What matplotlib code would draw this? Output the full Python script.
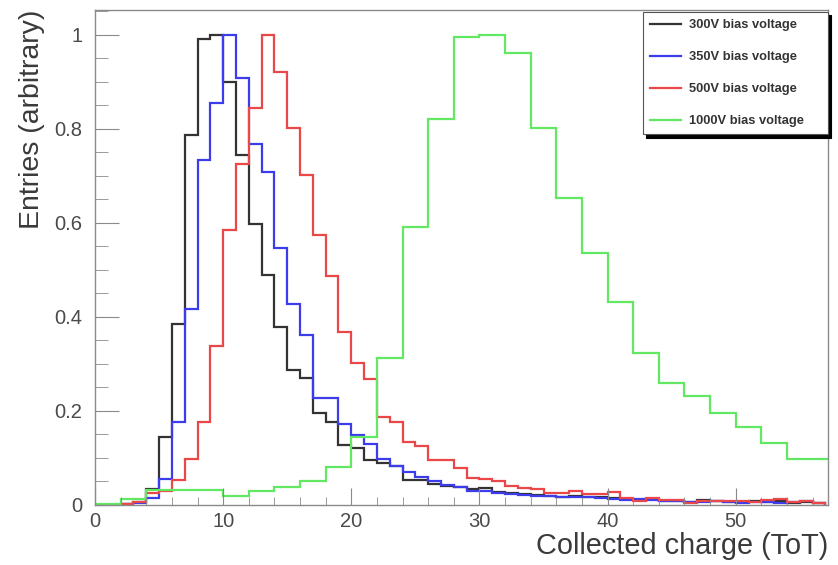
import numpy as np
import matplotlib
matplotlib.use("Agg")
import matplotlib.pyplot as plt
from matplotlib.ticker import MultipleLocator

plt.rcParams['font.family'] = ['Liberation Sans', 'DejaVu Sans']

# ---- data (normalised entries per ToT bin) ----
labels = ["300V bias voltage", "350V bias voltage", "500V bias voltage", "1000V bias voltage"]

# 1-ToT-wide bins from 0 to 57
v300 = [0, 0, 0.002, 0.007, 0.034, 0.145, 0.385, 0.787, 0.991, 1.0,
        0.9, 0.745, 0.598, 0.489, 0.379, 0.287, 0.27, 0.195, 0.177, 0.128,
        0.122, 0.096, 0.089, 0.082, 0.053, 0.053, 0.045, 0.04, 0.038, 0.034,
        0.036, 0.028, 0.026, 0.024, 0.022, 0.02, 0.018, 0.02, 0.016, 0.018,
        0.014, 0.012, 0.01, 0.012, 0.009, 0.008, 0.006, 0.01, 0.008, 0.007,
        0.006, 0.008, 0.006, 0.008, 0.005, 0.006, 0.004]
v350 = [0, 0, 0.002, 0.005, 0.015, 0.055, 0.177, 0.417, 0.734, 0.855,
        1.0, 0.908, 0.768, 0.709, 0.547, 0.428, 0.362, 0.228, 0.228, 0.172,
        0.149, 0.13, 0.097, 0.082, 0.071, 0.06, 0.05, 0.043, 0.038, 0.03,
        0.03, 0.026, 0.024, 0.022, 0.02, 0.02, 0.018, 0.016, 0.018, 0.015,
        0.013, 0.01, 0.012, 0.01, 0.008, 0.009, 0.007, 0.006, 0.008, 0.006,
        0.005, 0.007, 0.006, 0.005, 0.007, 0.009, 0.005]
v500 = [0, 0, 0.003, 0.006, 0.025, 0.03, 0.053, 0.098, 0.177, 0.338,
        0.584, 0.726, 0.844, 1.0, 0.922, 0.801, 0.702, 0.574, 0.487, 0.369,
        0.302, 0.268, 0.187, 0.177, 0.135, 0.125, 0.096, 0.095, 0.078, 0.057,
        0.055, 0.05, 0.04, 0.036, 0.034, 0.026, 0.025, 0.03, 0.023, 0.023,
        0.027, 0.015, 0.008, 0.014, 0.01, 0.01, 0.005, 0.008, 0.008, 0.009,
        0.008, 0.006, 0.01, 0.012, 0.006, 0.008, 0.005]
# 2-ToT-wide bins from 0 to 58
v1000 = [0.002, 0.013, 0.032, 0.031, 0.031, 0.02, 0.03, 0.038, 0.05, 0.08,
         0.145, 0.313, 0.592, 0.821, 0.996, 1.0, 0.961, 0.801, 0.654, 0.536,
         0.432, 0.323, 0.259, 0.232, 0.195, 0.165, 0.131, 0.098, 0.098]

edges_fine = np.arange(len(v300) + 1)
edges_coarse = np.arange(len(v1000) + 1) * 2

colors = ['#333333', '#3c3cec', '#ea4848', '#62e862']

W, H = 838, 565
fig = plt.figure(figsize=(W / 100, H / 100), dpi=100)
ax = fig.add_axes([95 / W, (H - 505) / H, 733 / W, 495 / H])

series = [(v300, edges_fine), (v350, edges_fine), (v500, edges_fine), (v1000, edges_coarse)]
for (vals, ed), c, lab in zip(series, colors, labels):
    ax.stairs(vals, ed, color=c, lw=1.6, label=lab, baseline=0)

ax.set_xlim(0, 57.2)
ax.set_ylim(0, 1.053)

frame_col = '#8a8a8a'
for s in ax.spines.values():
    s.set_color(frame_col)
    s.set_linewidth(1.0)

ax.xaxis.set_major_locator(MultipleLocator(10))
ax.xaxis.set_minor_locator(MultipleLocator(2))
ax.yaxis.set_major_locator(MultipleLocator(0.2))
ax.yaxis.set_minor_locator(MultipleLocator(0.05))
ax.set_yticks([0, 0.2, 0.4, 0.6, 0.8, 1.0])
ax.set_yticklabels(['0', '0.2', '0.4', '0.6', '0.8', '1'])

ax.tick_params(axis='both', which='both', direction='in', colors=frame_col,
               labelcolor='#4a4a4a', labelsize=14.5)
ax.tick_params(axis='y', which='major', length=17, pad=9)
ax.tick_params(axis='y', which='minor', length=9)
ax.tick_params(axis='x', which='major', length=12, pad=5)
ax.tick_params(axis='x', which='minor', length=6)

ax.set_xlabel('Collected charge (ToT)', loc='right', fontsize=20.8, color='#3a3a3a', labelpad=1)
ax.set_ylabel('Entries (arbitrary)', loc='top', fontsize=20.5, color='#3a3a3a', labelpad=7)

# legend box spanning ~643..828 px horizontally, top at ~12 px
x0 = (643 - 95) / 733
leg = ax.legend(loc='upper left', bbox_to_anchor=(x0, 0.0, 1.0 - x0, 0.996), mode='expand',
                prop={'weight': 'bold', 'size': 9.3}, frameon=True, fancybox=False,
                shadow={'color': 'black', 'alpha': 1.0, 'ox': 2.5, 'oy': -2.5},
                borderpad=0.55, labelspacing=1.55, handlelength=2.4, handletextpad=0.6,
                borderaxespad=0.0)
leg.get_frame().set_edgecolor('#555555')
leg.get_frame().set_linewidth(0.8)
for t in leg.get_texts():
    t.set_color('#333333')

fig.savefig('out.png', dpi=100)
